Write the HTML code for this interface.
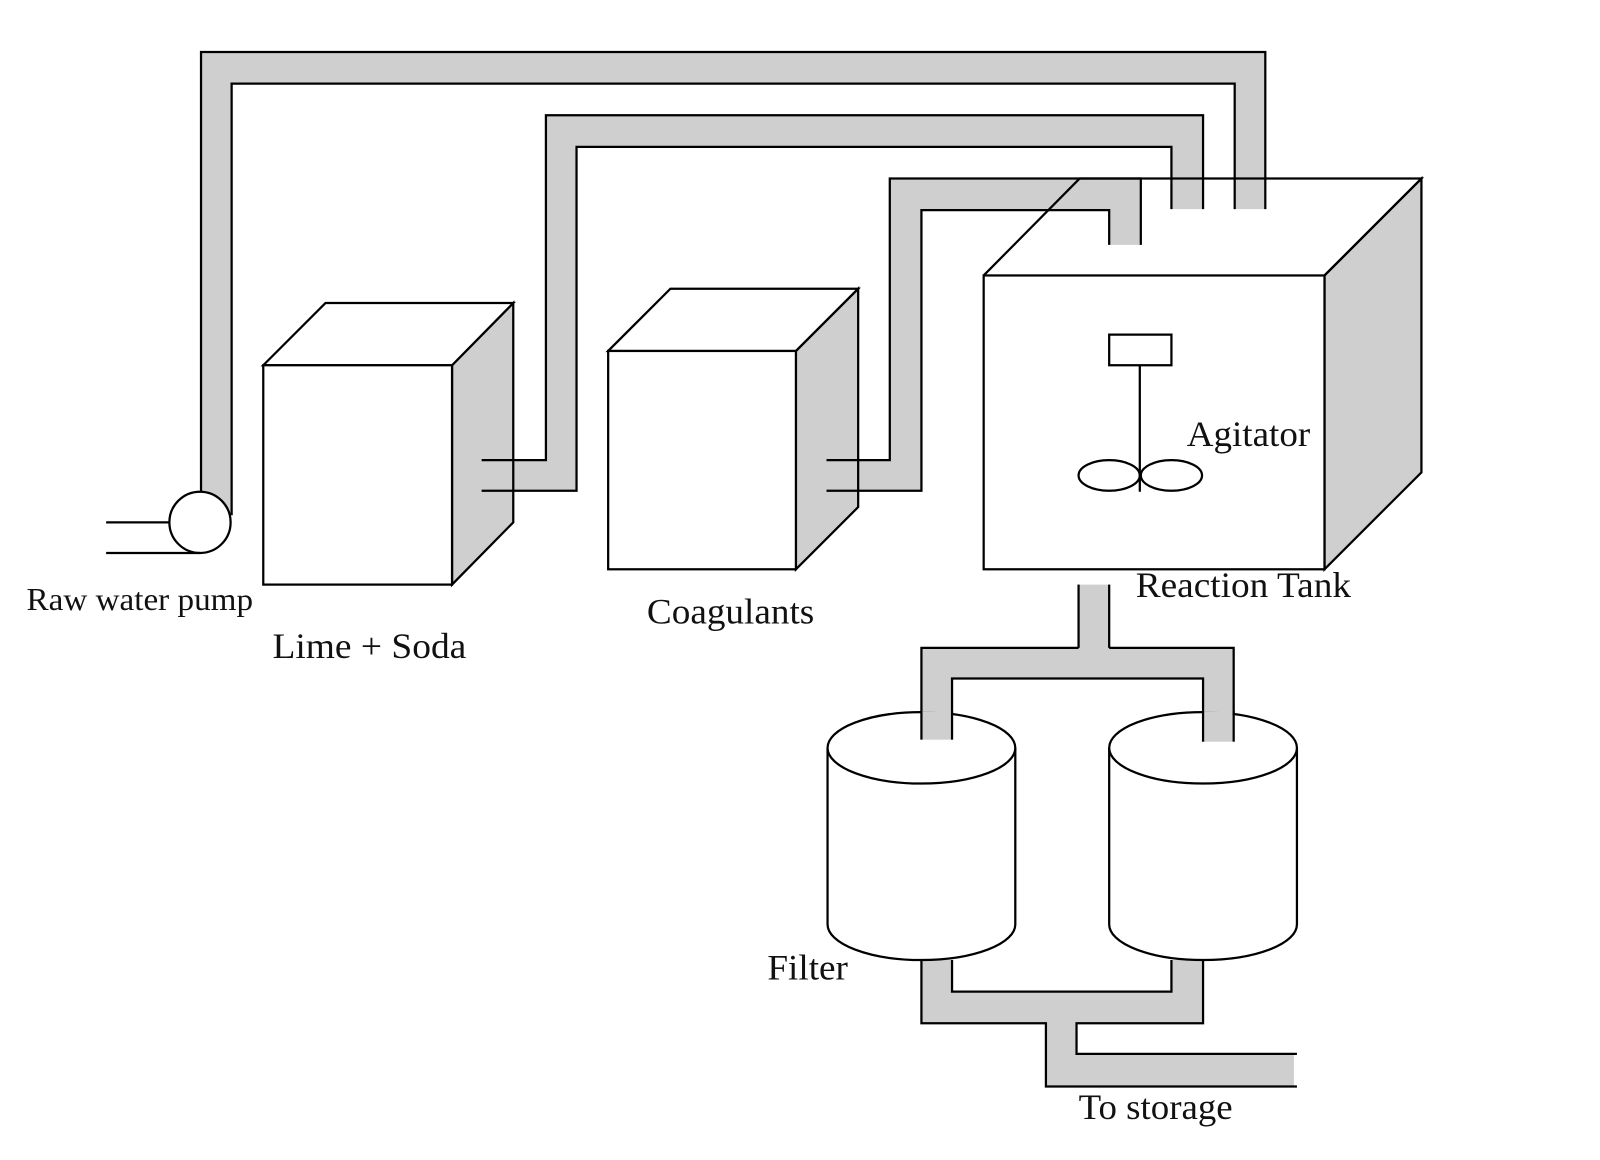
<!DOCTYPE html>
<html><head><meta charset="utf-8"><style>
html,body{margin:0;padding:0;background:#fff;}
svg{display:block;}
text{font-family:"Liberation Serif",serif;fill:#111;}
</style></head><body>
<svg width="1600" height="1160" viewBox="0 0 1568 1137" preserveAspectRatio="none" xmlns="http://www.w3.org/2000/svg">
<g stroke="#000" stroke-width="2.2" fill="none">
<polygon points="1298,270 1393,175 1393,463 1298,558" fill="#cfcfcf"/>
<g stroke="none" fill="#cfcfcf">
<polygon points="197,490 197,51 1240,51 1240,205 1210,205 1210,82 227,82 227,505"/>
<polygon points="503,451 535,451 535,113 1179,113 1179,205 1148,205 1148,144 565,144 565,481 503,481"/>
<polygon points="841,451 872,451 872,175 1118,175 1118,240 1087,240 1087,206 903,206 903,481 841,481"/>
<polygon points="1057,573 1087,573 1087,635 1209,635 1209,727 1179,727 1179,665 933,665 933,725 903,725 903,635 1057,635"/>
<polygon points="903,941 933,941 933,972 1148,972 1148,941 1179,941 1179,1003 1055,1003 1055,1033 1268,1033 1268,1065 1025,1065 1025,1003 903,1003"/>
</g>
<polyline points="197,490 197,51 1240,51 1240,205"/>
<polyline points="227,505 227,82 1210,82 1210,205"/>
<polyline points="472,451 535,451 535,113 1179,113 1179,205"/>
<polyline points="472,481 565,481 565,144 1148,144 1148,205"/>
<polyline points="810,451 872,451 872,175 1118,175 1118,240"/>
<polyline points="810,481 903,481 903,206 1087,206 1087,240"/>
<line x1="1057" y1="573" x2="1057" y2="635"/>
<line x1="1087" y1="573" x2="1087" y2="635"/>
<polyline points="903,725 903,635 1057,635"/>
<polyline points="1087,635 1209,635 1209,727"/>
<polyline points="933,725 933,665 1179,665 1179,727"/>
<polyline points="903,941 903,1003 1025,1003 1025,1065 1271,1065"/>
<polyline points="933,941 933,972 1148,972 1148,941"/>
<polyline points="1179,941 1179,1003 1055,1003 1055,1033 1271,1033"/>
<rect x="964" y="270" width="334" height="288" fill="#fff"/>
<polyline points="964,270 1058,175 1393,175 1298,270"/>
<rect x="1087" y="328" width="61" height="30" fill="#fff"/>
<line x1="1117" y1="358" x2="1117" y2="482"/>
<ellipse cx="1087" cy="466" rx="30" ry="15"/>
<ellipse cx="1148" cy="466" rx="30" ry="15"/>
<polygon points="443,358 503,297 503,512 443,573" fill="#cfcfcf"/>
<polygon points="258,358 319,297 503,297 443,358" fill="#fff"/>
<rect x="258" y="358" width="185" height="215" fill="#fff"/>
<line x1="472" y1="451" x2="503" y2="451"/>
<line x1="472" y1="481" x2="503" y2="481"/>
<polygon points="780,344 841,283 841,497 780,558" fill="#cfcfcf"/>
<polygon points="596,344 657,283 841,283 780,344" fill="#fff"/>
<rect x="596" y="344" width="184" height="214" fill="#fff"/>
<line x1="810" y1="451" x2="841" y2="451"/>
<line x1="810" y1="481" x2="841" y2="481"/>
<circle cx="196" cy="512" r="30" fill="#fff"/>
<line x1="104" y1="512" x2="166" y2="512"/>
<line x1="104" y1="542" x2="196" y2="542"/>
<path d="M811,733 L811,906 A92,35 0 0 0 995,906 L995,733" fill="#fff"/>
<ellipse cx="903" cy="733" rx="92" ry="35" fill="#fff"/>
<path d="M1087,733 L1087,906 A92,35 0 0 0 1271,906 L1271,733" fill="#fff"/>
<ellipse cx="1179" cy="733" rx="92" ry="35" fill="#fff"/>
</g>
<rect x="904" y="697" width="28" height="28" fill="#cfcfcf"/>
<rect x="1180" y="697" width="28" height="30" fill="#cfcfcf"/>
<g stroke="#000" stroke-width="2.2">
<line x1="903" y1="697" x2="903" y2="725"/><line x1="933" y1="697" x2="933" y2="725"/>
<line x1="1179" y1="697" x2="1179" y2="727"/><line x1="1209" y1="697" x2="1209" y2="727"/>
</g>
<text x="26" y="598" font-size="31" textLength="222" lengthAdjust="spacingAndGlyphs">Raw water pump</text>
<text x="267" y="645" font-size="35" textLength="190" lengthAdjust="spacingAndGlyphs">Lime + Soda</text>
<text x="634" y="611" font-size="35" textLength="164" lengthAdjust="spacingAndGlyphs">Coagulants</text>
<text x="1163" y="437" font-size="35" textLength="121" lengthAdjust="spacingAndGlyphs">Agitator</text>
<text x="1113" y="585" font-size="35" textLength="211" lengthAdjust="spacingAndGlyphs">Reaction Tank</text>
<text x="752" y="960" font-size="35" textLength="79" lengthAdjust="spacingAndGlyphs">Filter</text>
<text x="1057" y="1097" font-size="35" textLength="151" lengthAdjust="spacingAndGlyphs">To storage</text>
</svg>
</body></html>
